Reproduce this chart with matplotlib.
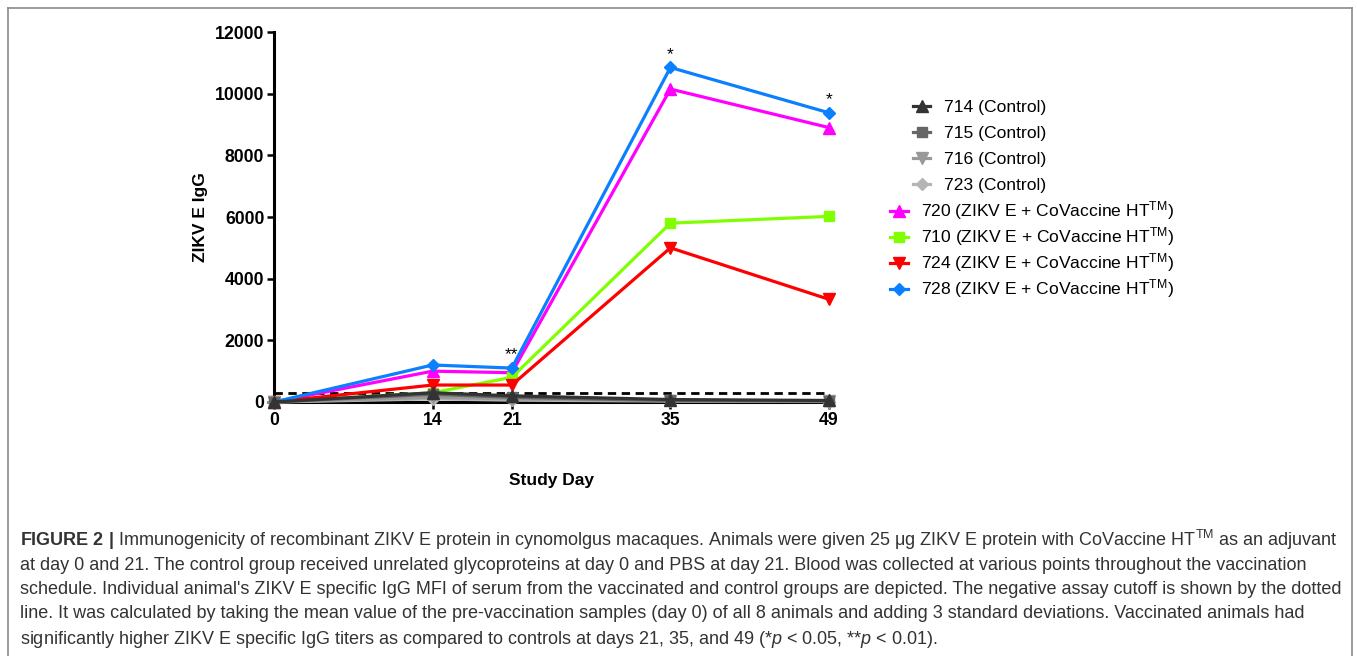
import matplotlib
matplotlib.use("Agg")
import matplotlib.pyplot as plt
from matplotlib.lines import Line2D

plt.rcParams['font.family'] = ['Liberation Sans', 'DejaVu Sans']
plt.rcParams['mathtext.fontset'] = 'custom'
plt.rcParams['mathtext.rm'] = 'Liberation Sans'
plt.rcParams['mathtext.it'] = 'Liberation Sans:italic'
plt.rcParams['mathtext.bf'] = 'Liberation Sans:bold'

# study days and per-animal IgG values
days = [0, 14, 21, 35, 49]

vacc_labels = ['720', '710', '724', '728']
vacc_values = [
    [0, 1000, 950, 10150, 8900],    # 720
    [0, 300, 800, 5800, 6020],      # 710
    [0, 550, 550, 5000, 3330],      # 724
    [0, 1200, 1100, 10850, 9380],   # 728
]
ctrl_labels = ['714', '715', '716', '723']
ctrl_values = [
    [0, 300, 200, 80, 50],   # 714
    [0, 250, 150, 50, 30],   # 715
    [0, 150, 100, 40, 20],   # 716
    [0, 100, 60, 30, 15],    # 723
]
cutoff = 300

star_days = [21, 35, 49]
star_text = ['**', '*', '*']
star_y = [1100, 10850, 9380]

xticks = [0, 14, 21, 35, 49]
yticks = [0, 2000, 4000, 6000, 8000, 10000, 12000]

vacc_colors = ['#ff00ff', '#80ff00', '#ff0000', '#0a7fff']
ctrl_colors = ['#333333', '#666666', '#999999', '#b5b5b5']
markers = ['^', 's', 'v', 'D']
msizes = [8, 7, 8, 6]

fig = plt.figure(figsize=(13.57, 6.56), dpi=100)
ax = fig.add_axes([0.2019, 0.3872, 0.4090, 0.5640])

vacc_handles = []
for vals, lab, c, m, ms in zip(vacc_values, vacc_labels, vacc_colors, markers, msizes):
    h, = ax.plot(days, vals, color=c, marker=m, markersize=ms, linewidth=2.3,
                 clip_on=False, zorder=3,
                 label=lab + r' (ZIKV E + CoVaccine HT$^{\mathrm{TM}}$)')
    vacc_handles.append(h)

ctrl_handles = []
for i in range(3, -1, -1):
    h, = ax.plot(days, ctrl_values[i], color=ctrl_colors[i], marker=markers[i],
                 markersize=msizes[i], linewidth=2.3, clip_on=False, zorder=4,
                 label=ctrl_labels[i] + ' (Control)')
    ctrl_handles.insert(0, h)

ax.axhline(cutoff, color='black', linestyle=(0, (3, 2)), linewidth=2.0, zorder=2)

for d, s, yv in zip(star_days, star_text, star_y):
    ax.annotate(s, (d, yv), xytext=(0, 4), textcoords='offset points',
                ha='center', va='bottom', fontsize=12.5)

ax.set_xlim(0, 49)
ax.set_ylim(0, 12000)
ax.set_xticks(xticks)
ax.set_yticks(yticks)
for lab in ax.get_xticklabels() + ax.get_yticklabels():
    lab.set_fontweight('bold')
    lab.set_fontsize(12.7)
ax.tick_params(direction='out', length=5, width=1.8, pad=2)
for s in ['top', 'right']:
    ax.spines[s].set_visible(False)
for s in ['left', 'bottom']:
    ax.spines[s].set_linewidth(2.2)

ax.set_xlabel('Study Day', fontsize=12.5, fontweight='bold', labelpad=32)
ax.set_ylabel('ZIKV E IgG', fontsize=12.5, fontweight='bold', labelpad=5)

leg1 = fig.legend(handles=ctrl_handles, loc='upper left',
                  bbox_to_anchor=(0.6728, 0.848), frameon=False, fontsize=12.6,
                  handlelength=1.0, handletextpad=0.75, labelspacing=0.62,
                  borderaxespad=0, borderpad=0)
leg2 = fig.legend(handles=vacc_handles, loc='upper left',
                  bbox_to_anchor=(0.6559, 0.696), frameon=False, fontsize=12.6,
                  handlelength=1.0, handletextpad=0.75, labelspacing=0.18,
                  borderaxespad=0, borderpad=0)

# caption box
box_c = '#8a8a8a'
fig.add_artist(Line2D([0.0059, 0.9963], [0.9878, 0.9878], color=box_c, lw=1.2))
fig.add_artist(Line2D([0.0059, 0.0059], [0.9878, 0.0], color=box_c, lw=1.2))
fig.add_artist(Line2D([0.9963, 0.9963], [0.9878, 0.0], color=box_c, lw=1.2))

caption = [
    r'$\mathbf{FIGURE\ 2\ |}$ Immunogenicity of recombinant ZIKV E protein in cynomolgus macaques. '
    r'Animals were given 25 μg ZIKV E protein with CoVaccine HT$^{\mathrm{TM}}$ as an adjuvant',
    'at day 0 and 21. The control group received unrelated glycoproteins at day 0 and PBS at day 21. '
    'Blood was collected at various points throughout the vaccination',
    "schedule. Individual animal's ZIKV E specific IgG MFI of serum from the vaccinated and control "
    'groups are depicted. The negative assay cutoff is shown by the dotted',
    'line. It was calculated by taking the mean value of the pre-vaccination samples (day 0) of all 8 '
    'animals and adding 3 standard deviations. Vaccinated animals had',
    r'significantly higher ZIKV E specific IgG titers as compared to controls at days 21, 35, and 49 '
    r'(*$\it{p}$ < 0.05, **$\it{p}$ < 0.01).',
]
caption_y = [540, 565, 589, 614, 639]
for line, yy in zip(caption, caption_y):
    fig.text(20 / 1357, 1 - yy / 656, line, ha='left', va='center',
             fontsize=13, color='#333333')

fig.savefig('out.png', dpi=100)
